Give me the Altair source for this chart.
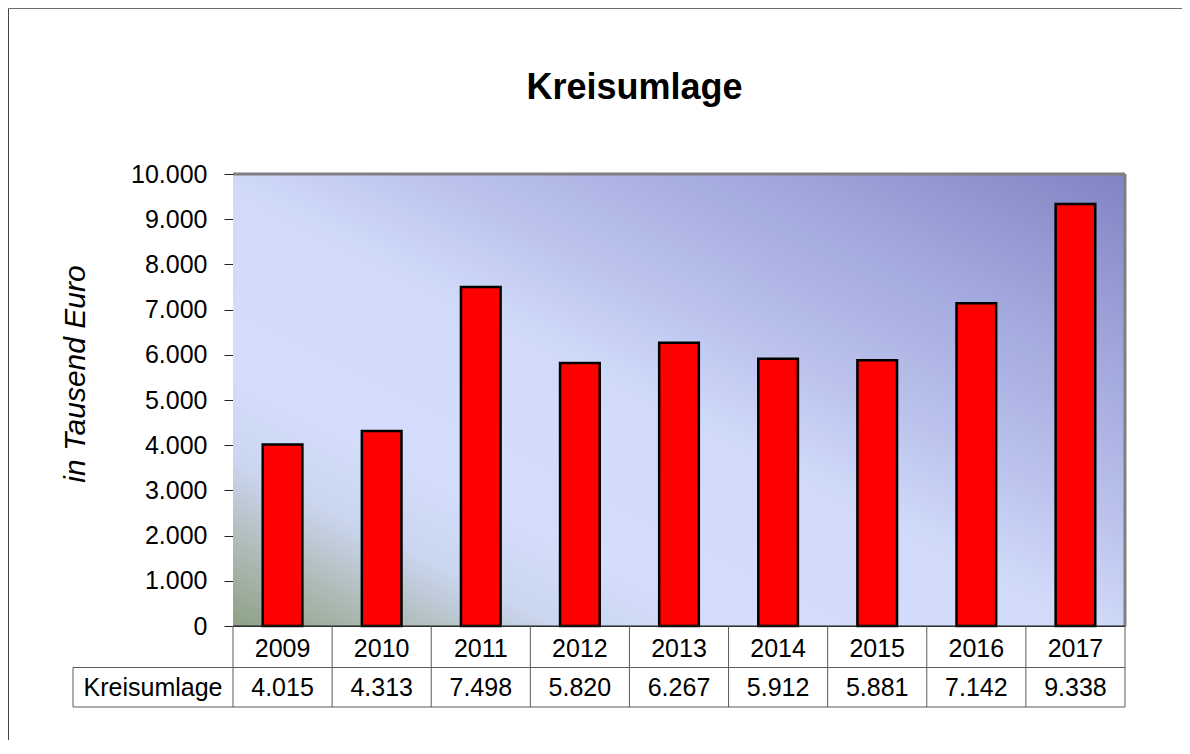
import altair as alt
import pandas as pd

years = ["2009", "2010", "2011", "2012", "2013", "2014", "2015", "2016", "2017"]
values = [4015, 4313, 7498, 5820, 6267, 5912, 5881, 7142, 9338]
y_ticks = [0, 1000, 2000, 3000, 4000, 5000, 6000, 7000, 8000, 9000, 10000]
title_text = "Kreisumlage"
row_label = "Kreisumlage"
y_title = "in Tausend Euro"

W, H = 892, 452
FONT = "Liberation Sans"

df = pd.DataFrame({"year": years, "value": values})
one = alt.Data(values=[{"k": 1}])

xscale = alt.Scale(domain=years, paddingInner=0, paddingOuter=0)
yscale = alt.Scale(domain=[0, 10000], nice=False)

gradient = {
    "gradient": "linear",
    "x1": 0, "y1": 1, "x2": 1, "y2": 0,
    "stops": [
        {"offset": 0.0, "color": "#8DA185"},
        {"offset": 0.08, "color": "#A9B8B0"},
        {"offset": 0.18, "color": "#CAD5EE"},
        {"offset": 0.28, "color": "#D4DEFC"},
        {"offset": 0.48, "color": "#D1DBF9"},
        {"offset": 0.62, "color": "#B9C1EC"},
        {"offset": 0.80, "color": "#A0A6DB"},
        {"offset": 1.0, "color": "#8084C3"},
    ],
}

background = alt.Chart(one).mark_rect(fill=gradient, strokeWidth=0).encode(
    x=alt.value(0), x2=alt.value(W), y=alt.value(0), y2=alt.value(H)
)

bars = alt.Chart(df).mark_bar(
    color="#FF0000", stroke="#000000", strokeWidth=2.5, width=alt.RelativeBandSize(0.4)
).encode(
    x=alt.X("year:O", scale=xscale, axis=None, sort=years),
    y=alt.Y(
        "value:Q",
        scale=yscale,
        axis=alt.Axis(
            values=y_ticks,
            title=None,
            grid=True,
            gridColor="#3a3a3a",
            gridWidth=1,
            domainColor="#222222",
            domainWidth=1,
            tickColor="#222222",
            tickSize=9,
            labelPadding=17,
            labelFont=FONT,
            labelFontSize=25,
            labelColor="#000000",
            labelExpr="replace(format(datum.value, ','), ',', '.')",
        ),
    ),
)

# plot frame: top/right gray, bottom dark
top_right = alt.Chart(one).mark_rule(color="#808080", strokeWidth=3).encode(
    x=alt.value(0), x2=alt.value(W), y=alt.value(0)
)
right_edge = alt.Chart(one).mark_rule(color="#808080", strokeWidth=3).encode(
    x=alt.value(W), y=alt.value(0), y2=alt.value(H)
)
bottom_edge = alt.Chart(one).mark_rule(color="#222222", strokeWidth=1).encode(
    x=alt.value(0), x2=alt.value(W), y=alt.value(H)
)

# data table below the plot
TC = "#5a5a5a"
vlines = alt.Chart(df).mark_rule(color=TC, strokeWidth=1).encode(
    x=alt.X("year:O", scale=xscale, sort=years, bandPosition=0),
    y=alt.value(H), y2=alt.value(H + 81),
)
vline_right = alt.Chart(one).mark_rule(color=TC, strokeWidth=1).encode(
    x=alt.value(W), y=alt.value(H), y2=alt.value(H + 81)
)
vline_left = alt.Chart(one).mark_rule(color=TC, strokeWidth=1).encode(
    x=alt.value(-160), y=alt.value(H + 41.5), y2=alt.value(H + 81)
)
hline_mid = alt.Chart(one).mark_rule(color=TC, strokeWidth=1).encode(
    x=alt.value(-160), x2=alt.value(W), y=alt.value(H + 41.5)
)
hline_bot = alt.Chart(one).mark_rule(color=TC, strokeWidth=1).encode(
    x=alt.value(-160), x2=alt.value(W), y=alt.value(H + 81)
)

year_text = alt.Chart(df).mark_text(
    font=FONT, fontSize=25, color="#000000", baseline="alphabetic", align="center"
).encode(
    x=alt.X("year:O", scale=xscale, sort=years),
    y=alt.value(H + 30.5),
    text="year:N",
)
value_text = alt.Chart(df).transform_calculate(
    label="replace(format(datum.value, ','), ',', '.')"
).mark_text(
    font=FONT, fontSize=25, color="#000000", baseline="alphabetic", align="center"
).encode(
    x=alt.X("year:O", scale=xscale, sort=years),
    y=alt.value(H + 70),
    text="label:N",
)
row_text = alt.Chart(one).mark_text(
    font=FONT, fontSize=25, color="#000000", baseline="alphabetic", align="center",
    text=row_label,
).encode(x=alt.value(-80), y=alt.value(H + 70))

title = alt.Chart(one).mark_text(
    font=FONT, fontSize=36, fontWeight="bold", color="#000000",
    baseline="alphabetic", align="center", text=title_text,
).encode(x=alt.value(401.5), y=alt.value(-75))

ytitle = alt.Chart(one).mark_text(
    font=FONT, fontSize=30, fontStyle="italic", color="#000000",
    baseline="middle", align="center", angle=270, text=y_title,
).encode(x=alt.value(-157), y=alt.value(200))

# outer frame (left and top edges visible)
frame_top = alt.Chart(one).mark_rule(color="#6e6e6e", strokeWidth=1).encode(
    x=alt.value(-224.5), x2=alt.value(960), y=alt.value(-165.5)
)
frame_left = alt.Chart(one).mark_rule(color="#444444", strokeWidth=1).encode(
    x=alt.value(-224.5), y=alt.value(-165.5), y2=alt.value(600)
)

chart = alt.layer(
    background, bars, top_right, right_edge, bottom_edge,
    vlines, vline_right, vline_left, hline_mid, hline_bot,
    year_text, value_text, row_text, title, ytitle, frame_top, frame_left,
).properties(
    width=W, height=H,
    autosize=alt.AutoSizeParams(type="none"),
    padding={"left": 225, "top": 166, "right": 57, "bottom": 114},
    background="#FFFFFF",
).configure_view(stroke=None)

chart.save("out.html", embed_options={"renderer": "svg", "actions": False})
